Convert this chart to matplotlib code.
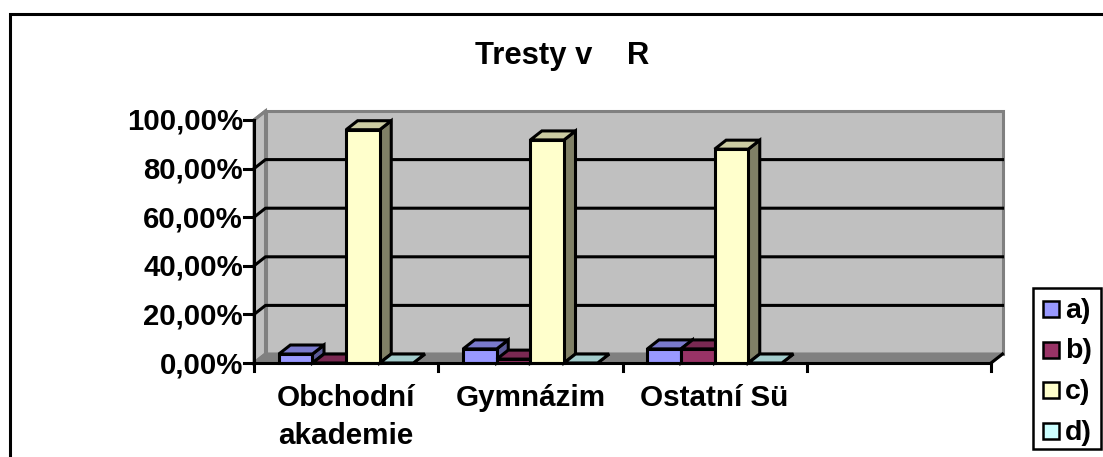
#!/usr/bin/env python

# Excel style 3D clustered columns, drawn by hand on a flat axes

import matplotlib
matplotlib.use("Agg")
import matplotlib.pyplot as plt
from matplotlib.patches import Polygon, Rectangle

categories = ["Obchodní\nakademie", "Gymnázim", "Ostatní Sü", ""]
series_names = ["a)", "b)", "c)", "d)"]
values_a = [3.7, 5.8, 5.8]
values_b = [0.0, 1.6, 5.8]
values_c = [96.0, 91.8, 88.0]
values_d = [0.0, 0.0, 0.0]
y_ticks = [0, 20, 40, 60, 80, 100]
y_tick_labels = ["0,00%", "20,00%", "40,00%", "60,00%", "80,00%", "100,00%"]

series_values = [values_a, values_b, values_c, values_d]
front_colors = ["#9999FF", "#993366", "#FFFFCC", "#CCFFFF"]
top_colors = ["#7A7ACC", "#7A2952", "#CCCCA3", "#A3CCCC"]
side_colors = ["#5C5C99", "#5C1F3D", "#808066", "#7A9999"]

W, H = 1103, 457
plt.rcParams["font.family"] = ["Liberation Sans", "DejaVu Sans"]
plt.rcParams["font.weight"] = "bold"

fig = plt.figure(figsize=(W / 100, H / 100), dpi=100)
fig.patch.set_facecolor("white")

# chart frame, runs off right and bottom
fig.add_artist(Rectangle((9.5 / W, -0.02), 1.0, 1 - 14.5 / H + 0.02, transform=fig.transFigure,
                         fc="white", ec="black", lw=2.2, zorder=-1))

left, right, top, bottom = 254, 991, 120, 363
ax = fig.add_axes([left / W, 1 - bottom / H, (right - left) / W, (bottom - top) / H])
ax.set_xlim(0, 4)
ax.set_ylim(0, 100)
ax.axis("off")

# depth in data units
dx = 11.5 * 4 / (right - left)
dy = 9 * 100 / (bottom - top)
py = 100 / (bottom - top)  # one pixel in y data units

def poly(points, fc, ec="black", lw=2.2, z=2):
    ax.add_patch(Polygon(points, closed=True, fc=fc, ec=ec, lw=lw, zorder=z,
                         clip_on=False, joinstyle="miter"))

# walls and floor
poly([(dx, dy), (4 + dx, dy), (4 + dx, 100 + dy), (dx, 100 + dy)], "#C0C0C0", "#808080")
poly([(0, 0), (dx, dy), (dx, 100 + dy), (0, 100)], "#C0C0C0", "#808080")
poly([(0, 0), (4, 0), (4 + dx, dy), (dx, dy)], "#808080", "#808080")

# gridlines
for t in y_ticks[1:-1]:
    ax.plot([0, dx, 4 + dx], [t, t + dy, t + dy], color="black", lw=2.2, zorder=3, clip_on=False)
ax.plot([0, dx], [100, 100 + dy], color="#808080", lw=2.2, zorder=3, clip_on=False)

# bars
bar_width = 0.1825
group_start = 0.135
for cat in range(3):
    for s in range(4):
        x0 = cat + group_start + s * bar_width
        x1 = x0 + bar_width
        v = series_values[s][cat]
        z = 4 + cat * 4 + s * 0.1
        poly([(x1, 0), (x1 + dx, dy), (x1 + dx, v + dy), (x1, v)], side_colors[s], z=z)
        poly([(x0, v), (x1, v), (x1 + dx, v + dy), (x0 + dx, v + dy)], top_colors[s], z=z)
        if v > 0:
            ax.bar(x0, v, bar_width, align="edge", color=front_colors[s], edgecolor="black",
                   linewidth=2.2, zorder=z, clip_on=False)

# axes lines, ticks
ax.plot([0, 0], [0, 100], color="black", lw=2.2, zorder=30, clip_on=False)
ax.plot([0, 4], [0, 0], color="black", lw=2.2, zorder=30, clip_on=False)
ax.plot([4, 4 + dx], [0, dy], color="black", lw=2.2, zorder=30, clip_on=False)
for t, lab in zip(y_ticks, y_tick_labels):
    ax.plot([0, -10 * 4 / (right - left)], [t, t], color="black", lw=2.2, zorder=30, clip_on=False)
    ax.text(-11 * 4 / (right - left), t - 2 * py, lab, ha="right", va="center", fontsize=21.2, color="black")
for i in range(5):
    ax.plot([i, i], [0, -8 * py], color="black", lw=2.2, zorder=30, clip_on=False)
for i, lab in enumerate(categories):
    ax.text(i + 0.5, -21 * py, lab, ha="center", va="top", fontsize=21.3,
            linespacing=1.45, color="black")

fig.text(562 / W, 1 - 56 / H, "Tresty v    R", ha="center", va="center", fontsize=22.3, color="black")

# legend
fig.add_artist(Rectangle((1033 / W, 1 - 449 / H), 68 / W, 161 / H, transform=fig.transFigure,
                         fc="white", ec="black", lw=1.8))
for i, name in enumerate(series_names):
    y = 309 + i * 40.5
    fig.add_artist(Rectangle((1042.5 / W, 1 - (y + 8) / H), 16 / W, 16 / H, transform=fig.transFigure,
                             fc=front_colors[i], ec="black", lw=1.8))
    fig.text(1065 / W, 1 - (y + 2) / H, name, ha="left", va="center", fontsize=20.5, color="black")

fig.savefig("out.png", dpi=100)
